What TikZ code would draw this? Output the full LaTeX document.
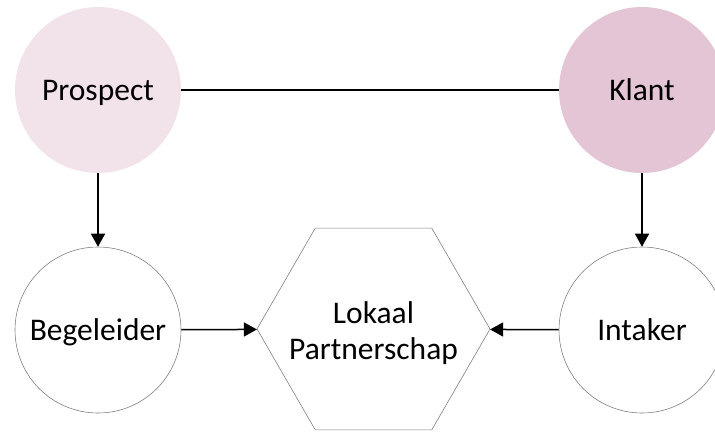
\documentclass[tikz,border=0pt]{standalone}
\usepackage{fontspec}
\setmainfont{Carlito}
\usetikzlibrary{shapes.geometric,arrows.meta}
\definecolor{prospectpink}{HTML}{F2E2EA}
\definecolor{klantpink}{HTML}{E3C5D5}

\begin{document}
\begin{tikzpicture}[x=1pt,y=-1pt,
  role/.style={circle,minimum size=166pt,inner sep=0pt,text height=21pt,text depth=0pt,
    font=\fontsize{31.5}{36}\selectfont},
  person/.style={role,draw=gray,line width=0.6pt,fill=white},
  link/.style={line width=1.5pt},
  flow/.style={link,-{Triangle[length=13pt,width=14pt]}}]
  \useasboundingbox (0,0) rectangle (715,432);
  \clip (0,0) rectangle (715,432);
  \node[role,fill=prospectpink] (prospect) at (98,90) {Prospect};
  \node[role,fill=klantpink] (klant) at (642,90) {Klant};
  \node[person] (begeleider) at (98,330) {Begeleider};
  \node[person] (intaker) at (642,330) {Intaker};
  \node[regular polygon,regular polygon sides=6,minimum size=233pt,inner sep=0pt,
    draw=gray,line width=0.6pt,
    label={[align=center,yshift=-4pt,font=\fontsize{31.5}{36}\selectfont]center:Lokaal\\Partnerschap}]
    (partnerschap) at (373.5,329) {};
  \draw[link] (prospect) -- (klant);
  \draw[flow] (prospect) -- (begeleider);
  \draw[flow] (klant) -- (intaker);
  \draw[flow] (begeleider) -- (partnerschap);
  \draw[flow] (intaker) -- (partnerschap);
\end{tikzpicture}
\end{document}
